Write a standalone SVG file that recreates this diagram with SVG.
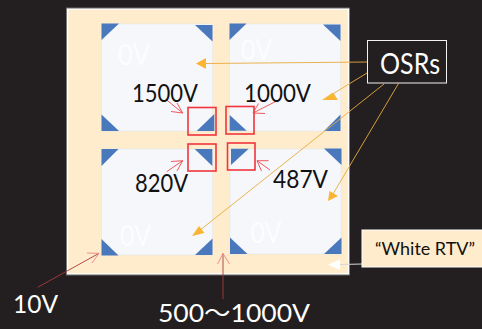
<svg xmlns="http://www.w3.org/2000/svg" width="482" height="329" viewBox="0 0 482 329">
<style>
text{font-family:Lato,"Noto Sans CJK JP",sans-serif}
.q{fill:#f5f7fb;stroke:#dfe3ea;stroke-width:.5}
.t{fill:#4a78bd}
.b{fill:none;stroke:#f0353d;stroke-width:1.6}
.k{font-size:25px;fill:#111}
.w{font-size:25px;fill:#fff}
.z{font-size:28px;fill:#fff;fill-opacity:.75}
.o{stroke:#e8aa3c;stroke-width:.9;fill:none}
.h{fill:#fbb535}
.r{stroke:#f0454a;stroke-width:.9;fill:none}
.d{stroke:#a83a3f;stroke-width:.9;fill:none}
.p{stroke:#f08080;stroke-width:.9;fill:none}
</style>
<rect width="482" height="329" fill="#231f20"/>
<g id="board">
<rect x="67.500" y="9" width="281" height="265" fill="#ffeccc" stroke="#fff" stroke-width="1.500"/>
<rect x="66.500" y="8" width="283" height="267" fill="none" stroke="#8c8a88" stroke-width=".7"/>
</g>
<g id="quadrant-tl">
<rect class="q" x="101.500" y="24" width="111" height="107"/>
<path class="t" d="M101.500 23.500H119L101.500 40Z"/>
<path class="t" d="M195 25H212.500V41.500Z"/>
<path class="t" d="M101.500 131H119L101.500 114.500Z"/>
<text class="z" x="118" y="65" textLength="32" lengthAdjust="spacingAndGlyphs">0V</text>
</g>
<g id="quadrant-tr">
<rect class="q" x="229.500" y="24" width="111" height="107"/>
<path class="t" d="M229.500 23.500H246.500L229.500 40Z"/>
<path class="t" d="M323 24.500H340.500V41Z"/>
<path class="t" d="M324 131L340.500 114.500V131Z"/>
<text class="z" x="241" y="60" textLength="31" lengthAdjust="spacingAndGlyphs">0V</text>
</g>
<g id="quadrant-bl">
<rect class="q" x="101.500" y="149" width="111" height="106"/>
<path class="t" d="M101.500 149H118.500L101.500 166Z"/>
<path class="t" d="M101.500 239V255.500H118.500Z"/>
<path class="t" d="M195 255L212.500 238.500V255Z"/>
<text class="z" x="120" y="246" textLength="31" lengthAdjust="spacingAndGlyphs">0V</text>
</g>
<g id="quadrant-br">
<rect class="q" x="230" y="149" width="111" height="105"/>
<path class="t" d="M324 148.500H341.500V165Z"/>
<path class="t" d="M230 237.500V254H247.500Z"/>
<path class="t" d="M324 254L341.500 237.500V254Z"/>
<text class="z" x="250.500" y="243" textLength="31" lengthAdjust="spacingAndGlyphs">0V</text>
</g>
<g id="center-tl"><path class="t" d="M196.700 131L214.300 114V131Z"/><rect class="b" x="188" y="107.500" width="28" height="27.500"/></g>
<g id="center-tr"><path class="t" d="M229.700 115V130.700H246.700Z"/><rect class="b" x="226" y="106.500" width="28" height="27.500"/></g>
<g id="center-bl"><path class="t" d="M194.700 149H212.300V166Z"/><rect class="b" x="188" y="144" width="28" height="27"/></g>
<g id="center-br"><path class="t" d="M231 148.700H248.700L231 165Z"/><rect class="b" x="227.500" y="143" width="27.500" height="27"/></g>
<g id="connectors">
<path class="o" d="M367 62L206 63.500"/>
<path class="h" d="M196 63.500L206 58V69Z"/>
<path class="o" d="M367 73L331 95"/>
<path class="h" d="M322 100L333 92.500L338 100Z"/>
<path class="o" d="M384 84L199 231"/>
<path class="h" d="M192 236L199 226L204.500 233Z"/>
<path class="o" d="M398.500 83.500L333 194"/>
<path class="h" d="M328 201L329.500 191L338 196Z"/>
<path class="r" d="M166.700 100L182.700 113M171 111.500L182.700 113L177 103"/>
<path class="r" d="M280 99.300L253 113M258.500 103.500L253 113L265 113.500"/>
<path class="r" d="M166.700 171.700L182.700 160.700M171 161.500L182.700 160.700L177 171"/>
<path class="r" d="M270 170L257 160.700M268.500 160.700L257 160.700L261.500 171"/>
<path class="d" d="M37.700 287.300L99 253.300"/>
<path class="p" d="M87 253L99 253.300L92 263"/>
<path class="d" d="M223 299V253.500"/>
<path class="p" d="M217.500 264L223 253.500L229.500 264"/>
<path d="M362 264L340 264.500" stroke="#d8d8d8" stroke-width="1" fill="none"/>
<path d="M328 264.700L340 259.500V270Z" fill="#fff"/>
</g>
<g id="osrs">
<rect x="367.500" y="40.500" width="79" height="42.500" fill="#231f20" stroke="#f2f2f2" stroke-width="1"/>
<text x="380" y="74" font-size="28" fill="#fff" textLength="60" lengthAdjust="spacingAndGlyphs">OSRs</text>
</g>
<g id="white-rtv">
<rect x="362" y="230" width="125" height="37" fill="#ffeccc" stroke="#fff" stroke-width="1"/>
<text x="375" y="255" font-size="18" fill="#111" textLength="100" lengthAdjust="spacingAndGlyphs">“White RTV”</text>
</g>
<g id="labels">
<text class="k" x="132" y="102" textLength="66" lengthAdjust="spacingAndGlyphs">1500V</text>
<text class="k" x="244" y="102" textLength="67" lengthAdjust="spacingAndGlyphs">1000V</text>
<text class="k" x="135" y="192" textLength="53" lengthAdjust="spacingAndGlyphs">820V</text>
<text class="k" x="273" y="188" textLength="55" lengthAdjust="spacingAndGlyphs">487V</text>
<text class="w" x="13" y="313" textLength="45" lengthAdjust="spacingAndGlyphs">10V</text>
<text class="w" x="158" y="322" textLength="152" lengthAdjust="spacingAndGlyphs">500〜1000V</text>
</g>
</svg>
